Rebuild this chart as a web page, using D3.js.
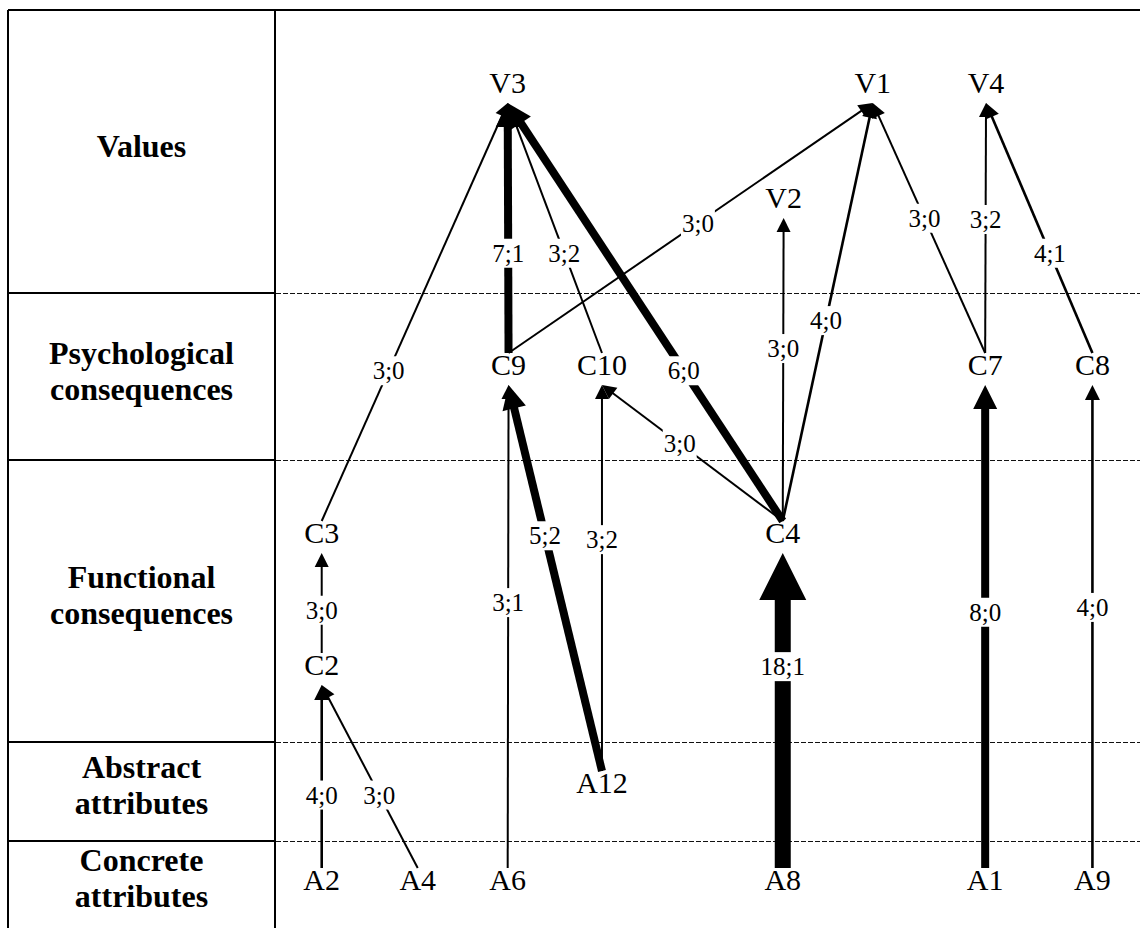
<!DOCTYPE html>
<html>
<head>
<meta charset="utf-8">
<script src="https://cdn.jsdelivr.net/npm/d3@7"></script>
<style>
  body { margin: 0; background: #fff; }
  svg { display: block; }
  svg text { font-family: "Liberation Serif", "Times New Roman", Times, "DejaVu Serif", serif; }
</style>
</head>
<body>
<svg id="vis"></svg>
<script>
// ladder levels, top to bottom
const levels = [["Values"], ["Psychological", "consequences"], ["Functional", "consequences"],
                ["Abstract", "attributes"], ["Concrete", "attributes"]];
const levelBreaks = [0, 30.83, 49.02, 79.74, 90.52, 100];   // map height units

// nodes: x across the map (0-100), y = text baseline (0-100)
const nodeIds = ["V3", "V1", "V4", "V2", "C9", "C10", "C7", "C8", "C3", "C4", "C2", "A12", "A2", "A4", "A6", "A8", "A1", "A9"];
const nodeX   = [26.9, 69.1, 82.2, 58.8, 27.0, 37.8, 82.1, 94.5, 5.4, 58.7, 5.4, 37.8, 5.4, 16.5, 26.9, 58.7, 82.1, 94.5];
const nodeY   = [9.04, 9.04, 9.04, 21.57, 39.76, 39.76, 39.76, 39.76, 58.06, 58.06, 72.44, 85.29, 95.86, 95.86, 95.86, 95.86, 95.86, 95.86];

// links: from -> to, label "links;indirect", where the label sits along the link (0-1)
const edgeFrom   = ["C3", "C9", "C10", "C4", "C9", "C4", "C4", "C7", "C7", "C8", "C4", "C2", "A6", "A12", "A12", "A8", "A1", "A9", "A2", "A4"];
const edgeTo     = ["V3", "V3", "V3", "V3", "V1", "V2", "V1", "V1", "V4", "V4", "C10", "C3", "C9", "C9", "C10", "C4", "C7", "C8", "C2", "C2"];
const edgeLabels = ["3;0", "7;1", "3;2", "6;0", "3;0", "3;0", "4;0", "3;0", "3;2", "4;1", "3;0", "3;0", "3;1", "5;2", "3;2", "18;1", "8;0", "4;0", "4;0", "3;0"];
const labelAt    = [0.36, 0.40, 0.40, 0.36, 0.52, 0.57, 0.48, 0.54, 0.535, 0.40, 0.57, 0.43, 0.55, 0.61, 0.60, 0.64, 0.53, 0.54, 0.40, 0.40];

const W = 1140, H = 928;
const padLeft = 8, padTop = 10, split = 275;

const svg = d3.select("#vis").attr("width", W).attr("height", H);

const x = d3.scaleLinear().domain([0, 100]).range([split, W]);
const y = d3.scaleLinear().domain([0, 100]).range([padTop, H]);

const width = d3.scaleThreshold().domain([4, 5, 10]).range([2, 2.6, 8, 16]);
const head = d3.scaleThreshold().domain([4, 5, 10]).range([14, 15, 24, 47]);

// frame
const frame = svg.append("g").attr("stroke", "#000").attr("stroke-width", 2);
frame.append("line").attr("x1", padLeft).attr("x2", W).attr("y1", padTop).attr("y2", padTop);
frame.append("line").attr("x1", padLeft).attr("x2", padLeft).attr("y1", padTop).attr("y2", H);
frame.append("line").attr("x1", split).attr("x2", split).attr("y1", padTop).attr("y2", H);

const inner = levelBreaks.slice(1, -1);
frame.selectAll(".sep").data(inner).join("line")
    .attr("x1", padLeft).attr("x2", split)
    .attr("y1", d => y(d)).attr("y2", d => y(d));

svg.append("g").selectAll("line").data(inner).join("line")
    .attr("x1", split + 1).attr("x2", W)
    .attr("y1", d => Math.round(y(d)) + 0.5).attr("y2", d => Math.round(y(d)) + 0.5)
    .attr("stroke", "#111").attr("stroke-width", 1).attr("stroke-dasharray", "5,2");

// level names
const levelG = svg.append("g")
    .attr("font-weight", "bold").attr("font-size", 32).attr("text-anchor", "middle");
levels.forEach((lines, i) => {
    const c = (y(levelBreaks[i]) + y(levelBreaks[i + 1])) / 2;
    const t = levelG.append("text").attr("x", (padLeft + split) / 2);
    lines.forEach((s, j) => {
        t.append("tspan").attr("x", (padLeft + split) / 2)
            .attr("y", c + 5 + (j - (lines.length - 1) / 2) * 36)
            .text(s);
    });
});

// geometry of links
const nodes = new Map(nodeIds.map((id, i) => [id, { id, x: x(nodeX[i]), y: y(nodeY[i]) }]));
const edges = edgeFrom.map((f, i) => {
    const s = nodes.get(f), t = nodes.get(edgeTo[i]);
    const n = +edgeLabels[i].split(";")[0];
    const x0 = s.x, y0 = s.y - 22, x1 = t.x, y1 = t.y + 10;
    const len = Math.hypot(x1 - x0, y1 - y0);
    const ux = (x1 - x0) / len, uy = (y1 - y0) / len;
    const h = head(n);
    return { n, label: edgeLabels[i], x0, y0, x1, y1, ux, uy, h,
             lx: x0 + (x1 - x0) * labelAt[i], ly: y0 + (y1 - y0) * labelAt[i] };
});

const linkG = svg.append("g");
linkG.selectAll("line").data(edges).join("line")
    .attr("x1", d => d.x0).attr("y1", d => d.y0)
    .attr("x2", d => d.x1 - d.ux * d.h * 0.8).attr("y2", d => d.y1 - d.uy * d.h * 0.8)
    .attr("stroke", "#000").attr("stroke-width", d => width(d.n));

linkG.selectAll("path").data(edges).join("path")
    .attr("fill", "#000")
    .attr("d", d => {
        const bx = d.x1 - d.ux * d.h, by = d.y1 - d.uy * d.h;
        const px = -d.uy * d.h / 2, py = d.ux * d.h / 2;
        return `M${d.x1},${d.y1}L${bx + px},${by + py}L${bx - px},${by - py}Z`;
    });

// link labels with a white gap behind
const labG = svg.append("g")
    .attr("font-size", 25).attr("text-anchor", "middle");
const lab = labG.selectAll("g").data(edges).join("g");
const labText = lab.append("text")
    .attr("x", d => d.lx).attr("y", d => d.ly).attr("dy", "0.35em")
    .text(d => d.label);
labText.each(function () {
    const b = this.getBBox();
    d3.select(this.parentNode).insert("rect", "text")
        .attr("x", b.x - 1).attr("y", b.y - 1)
        .attr("width", b.width + 2).attr("height", b.height + 2)
        .attr("fill", "#fff");
});

// node labels
svg.append("g")
    .attr("font-size", 30).attr("text-anchor", "middle")
    .selectAll("text").data([...nodes.values()]).join("text")
    .attr("x", d => d.x).attr("y", d => d.y)
    .text(d => d.id);
</script>
</body>
</html>
